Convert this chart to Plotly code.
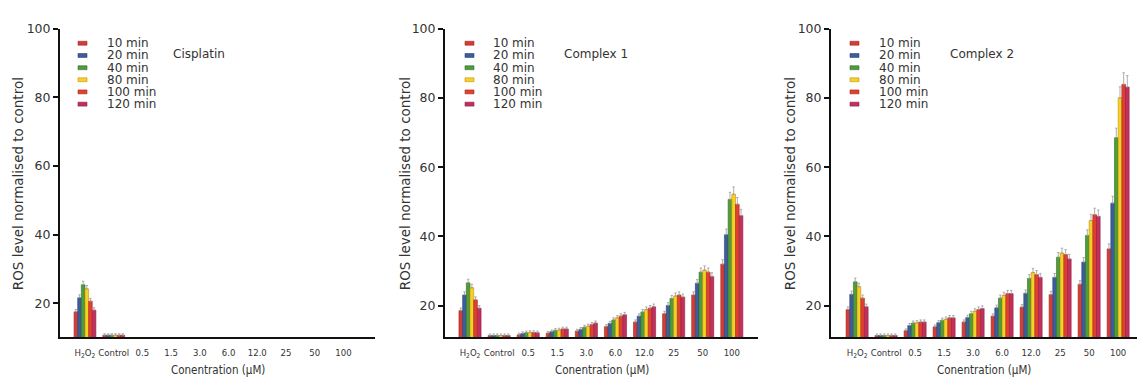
import plotly.graph_objects as go

# Concentration groups along the x axis
categories = ["H2O2", "Control", "0.5", "1.5", "3.0", "6.0", "12.0", "25", "50", "100"]
tick_labels = ["H<sub>2</sub>O<sub>2</sub>", "Control", "0.5", "1.5", "3.0", "6.0",
               "12.0", "25", "50", "100"]

# Incubation times
times = ["10 min", "20 min", "40 min", "80 min", "100 min", "120 min"]
colors = ["#d63c34", "#3d5d9c", "#4e9c3a", "#f0d424", "#e2402e", "#c4305e"]
edge_colors = ["#9c2a25", "#2a4070", "#356c28", "#d08a10", "#a52c22", "#8c2242"]

# ROS level normalised to control, one list per incubation time
cisplatin = {
    "10 min":  [17.5, 10.7, None, None, None, None, None, None, None, None],
    "20 min":  [21.6, 10.7, None, None, None, None, None, None, None, None],
    "40 min":  [25.4, 10.7, None, None, None, None, None, None, None, None],
    "80 min":  [24.2, 10.7, None, None, None, None, None, None, None, None],
    "100 min": [20.6, 10.7, None, None, None, None, None, None, None, None],
    "120 min": [18.0, 10.7, None, None, None, None, None, None, None, None],
}
complex1 = {
    "10 min":  [18.6, 11.4, 11.6, 12.1, 12.7, 14.0, 15.3, 17.7, 23.1, 32.0],
    "20 min":  [23.1, 11.4, 12.0, 12.5, 13.2, 14.9, 17.0, 20.1, 26.5, 40.5],
    "40 min":  [26.6, 11.4, 12.2, 12.9, 13.8, 15.9, 18.2, 22.1, 29.7, 50.7],
    "80 min":  [25.2, 11.4, 12.3, 13.0, 14.1, 16.5, 18.9, 22.8, 30.3, 52.2],
    "100 min": [21.7, 11.4, 12.3, 13.3, 14.6, 17.0, 19.3, 23.1, 29.7, 49.3],
    "120 min": [19.3, 11.4, 12.2, 13.3, 15.0, 17.4, 19.7, 22.5, 28.4, 46.0],
}
complex2 = {
    "10 min":  [18.9, 11.4, 12.8, 13.9, 15.3, 17.0, 19.6, 23.2, 26.2, 36.4],
    "20 min":  [23.3, 11.4, 14.3, 15.1, 16.6, 19.4, 23.6, 28.2, 32.6, 49.6],
    "40 min":  [26.9, 11.4, 15.0, 15.8, 17.7, 22.2, 27.9, 34.0, 40.3, 68.5],
    "80 min":  [25.5, 11.4, 15.1, 16.1, 18.4, 23.0, 29.6, 35.2, 44.6, 80.0],
    "100 min": [22.2, 11.4, 15.3, 16.5, 18.9, 23.5, 29.0, 34.8, 46.3, 83.9],
    "120 min": [19.7, 11.4, 15.3, 16.5, 19.2, 23.5, 28.2, 33.5, 45.8, 83.1],
}

panels = [
    {"name": "Cisplatin", "data": cisplatin, "dom": [60, 375], "yr": [10.2, 100],
     "xr": [-0.87, 10.1], "sw": 78, "tx": 105, "title_x": 171, "ylab_x": 18},
    {"name": "Complex 1", "data": complex1, "dom": [445, 758], "yr": [11.0, 100],
     "xr": [-0.86, 9.9], "sw": 465, "tx": 491, "title_x": 562, "ylab_x": 405},
    {"name": "Complex 2", "data": complex2, "dom": [831, 1137], "yr": [11.0, 100],
     "xr": [-0.9, 9.65], "sw": 850, "tx": 877, "title_x": 948, "ylab_x": 790},
]

W, H = 1138, 381
y_top_px, y_bot_px = 21, 336
font = "DejaVu Sans"

fig = go.Figure()
annotations = []
shapes = []
legend_y = [36, 48.5, 61, 73.3, 85.7, 98.2]

for i, p in enumerate(panels, start=1):
    xa = "x" if i == 1 else f"x{i}"
    ya = "y" if i == 1 else f"y{i}"
    for t, c, ec in zip(times, colors, edge_colors):
        # bars rise from zero and are clipped at the axis floor
        fig.add_trace(go.Bar(
            x=categories, y=p["data"][t], name=t, xaxis=xa, yaxis=ya,
            marker=dict(color=c, line=dict(color=ec, width=0.6)),
            error_y=dict(type="percent", value=4, symmetric=False, valueminus=0,
                         color="#9a9a9a", thickness=0.8, width=1.2),
            showlegend=False,
        ))

    dom = [p["dom"][0] / W, p["dom"][1] / W]
    fig.layout[f"xaxis{'' if i == 1 else i}"] = dict(
        domain=dom, type="category", range=p["xr"],
        categoryorder="array", categoryarray=categories,
        tickvals=categories, ticktext=tick_labels,
        showline=True, linecolor="#111", linewidth=2, ticks="",
        tickfont=dict(family="DejaVu Sans Condensed", size=9.5, color="#333"),
        ticklabelstandoff=6, showgrid=False, zeroline=False, anchor=ya,
        fixedrange=True,
    )
    fig.layout[f"yaxis{'' if i == 1 else i}"] = dict(
        domain=[1 - y_bot_px / H, 1 - y_top_px / H],
        range=p["yr"],
        tickvals=[20, 40, 60, 80, 100],
        showline=True, linecolor="#111", linewidth=2,
        ticks="outside", ticklen=5, tickwidth=1.5, tickcolor="#111",
        tickfont=dict(family=font, size=12.5, color="#333"),
        showgrid=False, zeroline=False, anchor=xa, fixedrange=True,
    )

    # panel title
    annotations.append(dict(
        text=p["name"], x=p["title_x"] / W, y=1 - 47 / H, xref="paper", yref="paper",
        xanchor="left", yanchor="middle", showarrow=False,
        font=dict(family=font, size=12, color="#333")))
    # axis titles
    annotations.append(dict(
        text="ROS level normalised to control", x=p["ylab_x"] / W, y=1 - 180 / H,
        xref="paper", yref="paper", textangle=-90, showarrow=False,
        xanchor="center", yanchor="middle",
        font=dict(family=font, size=13.5, color="#333")))
    annotations.append(dict(
        text="Conentration (µM)", x=(p["dom"][0] + p["dom"][1]) / 2 / W, y=1 - 370 / H,
        xref="paper", yref="paper", showarrow=False, xanchor="center", yanchor="middle",
        font=dict(family="DejaVu Sans Condensed", size=11.5, color="#333")))

    # legend
    for t, c, ec, ly in zip(times, colors, edge_colors, legend_y):
        shapes.append(dict(
            type="rect", xref="paper", yref="paper",
            x0=p["sw"] / W, x1=(p["sw"] + 9) / W,
            y0=1 - (ly + 2) / H, y1=1 - (ly - 2) / H,
            fillcolor=c, line=dict(color=ec, width=0.6)))
        annotations.append(dict(
            text=t, x=p["tx"] / W, y=1 - ly / H, xref="paper", yref="paper",
            xanchor="left", yanchor="middle", showarrow=False,
            font=dict(family=font, size=12, color="#333")))

fig.update_layout(
    width=W, height=H, margin=dict(l=0, r=0, t=0, b=0),
    paper_bgcolor="white", plot_bgcolor="white",
    barmode="group", bargap=0.24, bargroupgap=0,
    annotations=annotations, shapes=shapes,
)

fig.write_html("out.html")
